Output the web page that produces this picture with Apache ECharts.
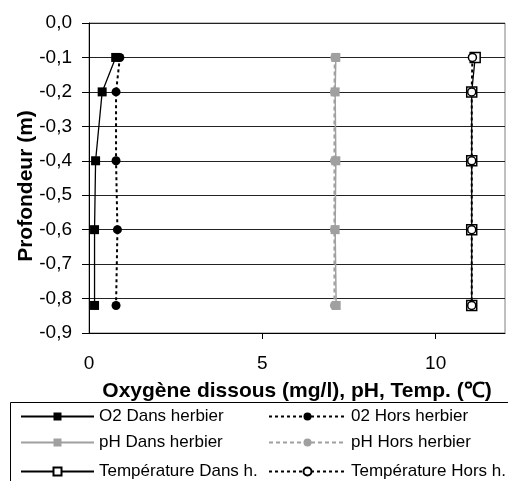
<!DOCTYPE html>
<html><head><meta charset="utf-8">
<script src="https://cdn.jsdelivr.net/npm/echarts@6/dist/echarts.min.js"></script>
<style>html,body{margin:0;padding:0;background:#fff}#c{width:508px;height:481px}</style>
</head><body><div id="c"></div>
<script>
const depths = [-0.1, -0.2, -0.4, -0.6, -0.82];
const o2Dans = [0.77, 0.38, 0.19, 0.16, 0.16];
const o2Hors = [0.89, 0.78, 0.78, 0.82, 0.78];
const phDans = [7.12, 7.10, 7.12, 7.10, 7.13];
const phHors = [7.09, 7.08, 7.08, 7.08, 7.08];
const tempDans = [11.14, 11.04, 11.04, 11.04, 11.04];
const tempHors = [11.06, 11.04, 11.04, 11.04, 11.04];
const names = ['O2 Dans herbier','02 Hors herbier','pH Dans herbier','pH Hors herbier','Température Dans h.','Température Hors h.'];
const xTicks = [0, 5, 10];
const yTitle = 'Profondeur (m)';
const xTitle = 'Oxygène dissous (mg/l), pH, Temp. (℃)';

const FONT = 'Liberation Sans, Arial, sans-serif';
const pts = vals => vals.map((v,i)=>[v, depths[i]]);
const grey = '#a0a0a0';

const series = [
  {name:names[0], data:pts(o2Dans), symbol:'rect', symbolSize:9, lineStyle:{color:'#000',width:1.3,type:'solid'}, itemStyle:{color:'#000'}},
  {name:names[1], data:pts(o2Hors), symbol:'circle', symbolSize:9, lineStyle:{color:'#000',width:2,type:[3,3]}, itemStyle:{color:'#000'}},
  {name:names[2], data:pts(phDans), symbol:'rect', symbolSize:9, lineStyle:{color:grey,width:1.5,type:'solid'}, itemStyle:{color:grey}},
  {name:names[3], data:pts(phHors), symbol:'circle', symbolSize:9, lineStyle:{color:grey,width:2,type:[4,3]}, itemStyle:{color:grey}},
  {name:names[4], data:pts(tempDans), symbol:'rect', symbolSize:10, lineStyle:{color:'#000',width:1.3,type:'solid'}, itemStyle:{color:'#fff',borderColor:'#000',borderWidth:1.5}},
  {name:names[5], data:pts(tempHors), symbol:'circle', symbolSize:8, lineStyle:{color:'#000',width:2,type:[3,3]}, itemStyle:{color:'#fff',borderColor:'#000',borderWidth:1.5}}
].map(s=>Object.assign({type:'line', showAllSymbol:true, animation:false, z:3}, s));

const legendPos = [[20,408,73],[268,408,77],[20,434,73],[268,434,77],[20,463,73],[268,463,77]];
const legends = names.map((n,i)=>({
  data:[n], left:legendPos[i][0], top:legendPos[i][1], itemWidth:legendPos[i][2], itemHeight:10, itemGap:0, padding:0,
  textStyle:{fontFamily:FONT, fontSize:17, lineHeight:17, color:'#000'}, selectedMode:false
}));

const chart = echarts.init(document.getElementById('c'));
chart.setOption({
  animation:false,
  backgroundColor:'#fff',
  grid:{left:89, right:3, top:23, bottom:148, show:true, borderColor:'#808080', borderWidth:1, backgroundColor:'transparent'},
  legend:legends,
  graphic:[
    {type:'rect', shape:{x:10.5, y:402.5, width:510, height:90}, style:{fill:'none', stroke:'#000', lineWidth:1}, z:-1},
    {type:'text', x:26, y:186, rotation:Math.PI/2, style:{text:yTitle, fontFamily:FONT, fontSize:21, fontWeight:'bold', fill:'#000', align:'center', verticalAlign:'middle'}}
  ],
  xAxis:{type:'value', min:0, max:12, interval:5,
    axisLine:{onZero:false, lineStyle:{color:'#000', width:1}},
    axisTick:{show:true, length:6, lineStyle:{color:'#000'}, customValues:[5,10]},
    axisLabel:{customValues:xTicks, fontFamily:FONT, fontSize:19, color:'#000', margin:21},
    splitLine:{show:false},
    name:xTitle, nameLocation:'middle', nameGap:48,
    nameTextStyle:{fontFamily:FONT, fontSize:21, fontWeight:'bold', color:'#000'}
  },
  yAxis:{type:'value', min:-0.9, max:0, interval:0.1,
    axisLine:{show:true, onZero:false, lineStyle:{color:'#000', width:1}},
    axisTick:{show:true, length:7, lineStyle:{color:'#000'}},
    axisLabel:{fontFamily:FONT, fontSize:19, color:'#000', margin:17,
      formatter:v=>{const s=(Math.round(v*10)/10).toFixed(1).replace('.',','); return s==='-0,0'?'0,0':s;}},
    splitLine:{show:true, lineStyle:{color:'#222', width:1}}
  },
  series:series
});
</script></body></html>
